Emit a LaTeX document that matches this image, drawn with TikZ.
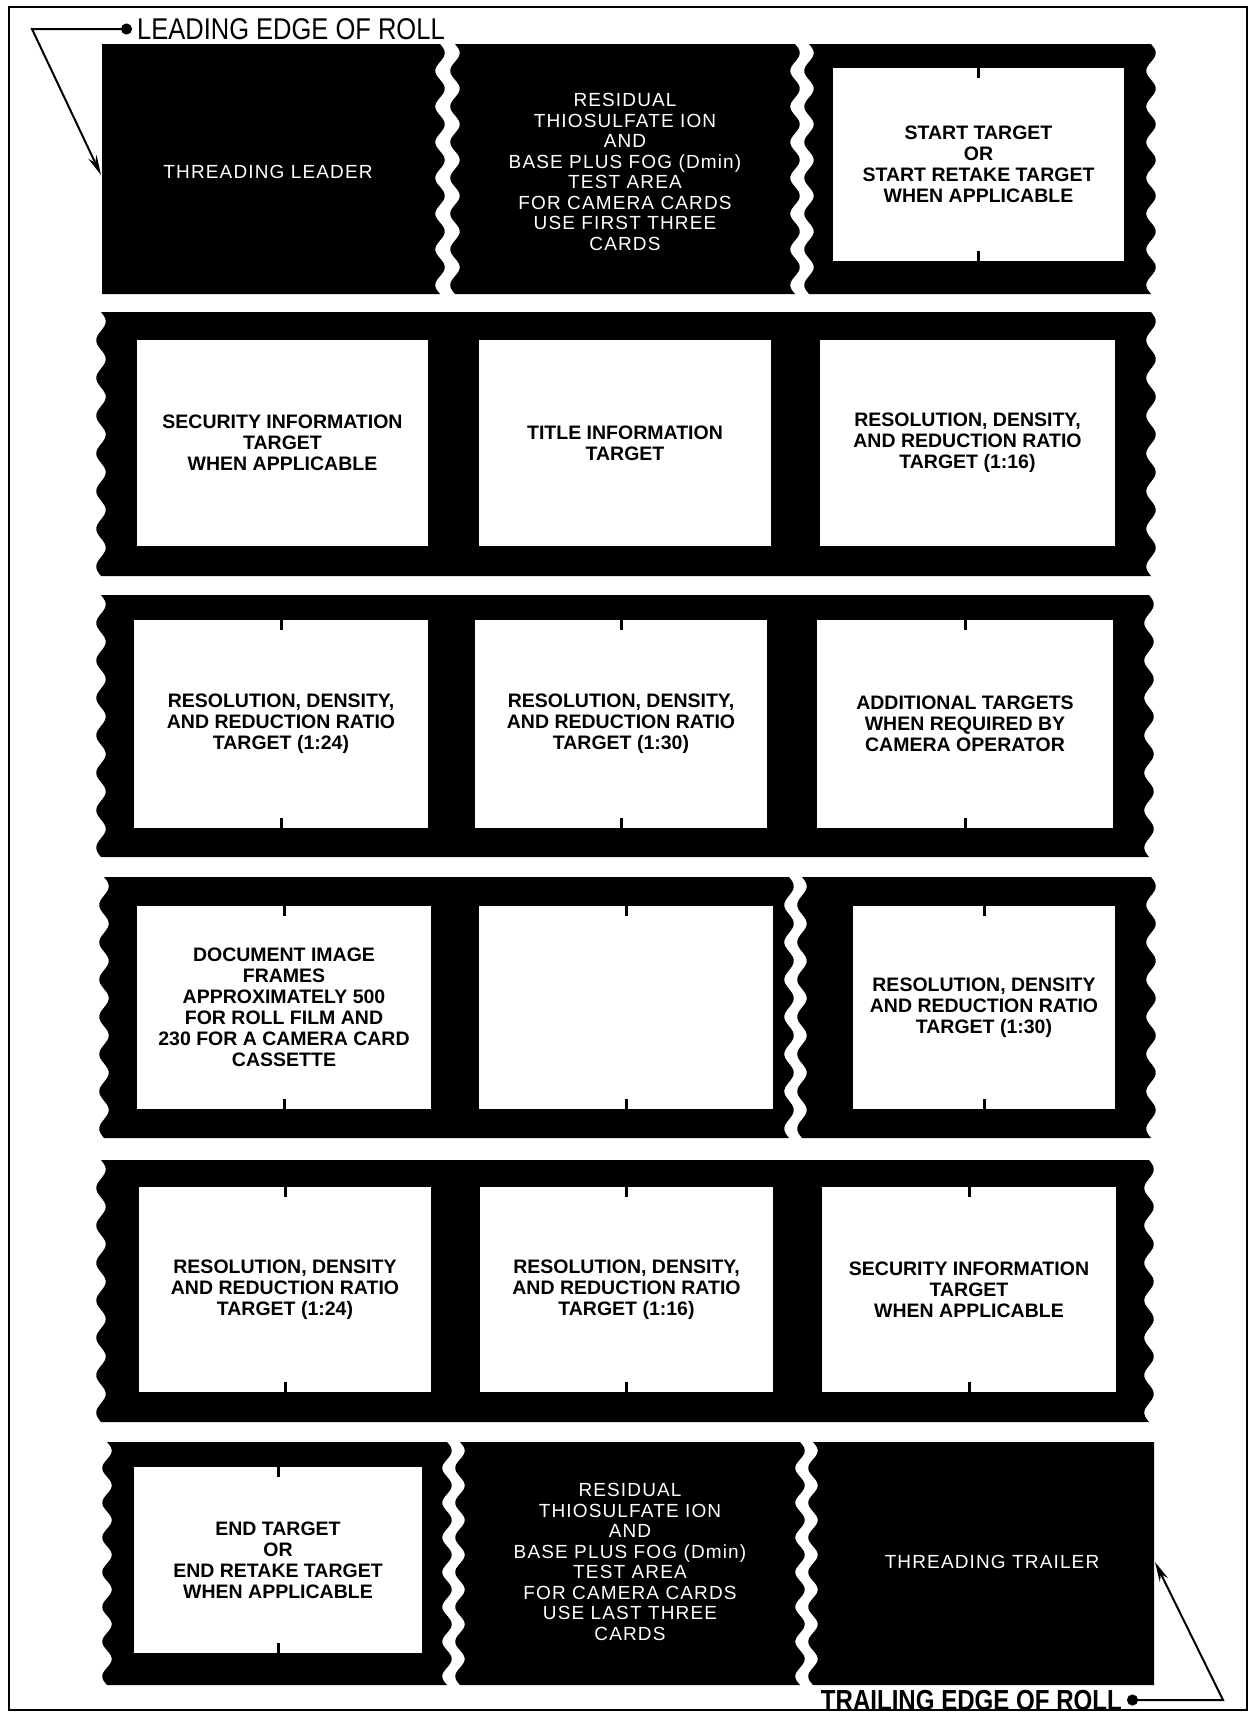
\documentclass[tikz,border=0pt]{standalone}
\usepackage{fontspec}
\setmainfont{Liberation Sans}
\newfontfamily\spacedfont[LetterSpace=6]{Liberation Sans}
\newfontfamily\leadfont[FakeStretch=0.85]{Liberation Sans}
\newfontfamily\trailfont[FakeStretch=0.83]{Liberation Sans}
\usetikzlibrary{arrows.meta,calc}
\tikzset{
  film/.style={fill=black},
  wavy/.style={smooth, samples=99, variable=\yy},
  wedge/.style 2 args={insert path={-- plot[wavy, domain=#2]
      ({#1+4.8*sin((\yy-\ftop)/(\fbot-\ftop)*2520)}, \yy)}},
  win/.style={fill=white, inner sep=0pt, align=center,
              font=\bfseries\fontsize{19.5}{21}\selectfont},
  dark/.style={text=white, inner sep=0pt, align=center,
               font=\spacedfont\fontsize{19}{20.5}\selectfont},
  notch/.style={fill=black},
  edgelabel/.style={inner sep=0pt},
  pointer/.style={line width=2pt,
                  {Circle[length=11pt]}-{Stealth[length=20pt,width=9pt]}},
}

\begin{document}
\begin{tikzpicture}[x=1pt, y=-1pt]
  \useasboundingbox (0,0) rectangle (1252,1719);
  \draw[line width=2.5] (9,7) rectangle (1247,1710);
  % film row 1
  \def\ftop{44}\def\fbot{294}
  \fill[film] (102,\ftop) -- (440,\ftop) [wedge={440}{\ftop:\fbot}]
    -- (102,\fbot) -- cycle;
  \fill[film] (455,\ftop) -- (795,\ftop) [wedge={795}{\ftop:\fbot}]
    -- (455,\fbot) [wedge={455}{\fbot:\ftop}] -- cycle;
  \fill[film] (809,\ftop) -- (1151,\ftop) [wedge={1151}{\ftop:\fbot}]
    -- (809,\fbot) [wedge={809}{\fbot:\ftop}] -- cycle;
  % film row 2
  \def\ftop{312}\def\fbot{576}
  \fill[film] (101,\ftop) -- (1151,\ftop) [wedge={1151}{\ftop:\fbot}]
    -- (101,\fbot) [wedge={101}{\fbot:\ftop}] -- cycle;
  % film row 3
  \def\ftop{595}\def\fbot{857}
  \fill[film] (101,\ftop) -- (1149,\ftop) [wedge={1149}{\ftop:\fbot}]
    -- (101,\fbot) [wedge={101}{\fbot:\ftop}] -- cycle;
  % film row 4
  \def\ftop{877}\def\fbot{1138}
  \fill[film] (104,\ftop) -- (789,\ftop) [wedge={789}{\ftop:\fbot}]
    -- (104,\fbot) [wedge={104}{\fbot:\ftop}] -- cycle;
  \fill[film] (802,\ftop) -- (1151,\ftop) [wedge={1151}{\ftop:\fbot}]
    -- (802,\fbot) [wedge={802}{\fbot:\ftop}] -- cycle;
  % film row 5
  \def\ftop{1160}\def\fbot{1422}
  \fill[film] (101,\ftop) -- (1149,\ftop) [wedge={1149}{\ftop:\fbot}]
    -- (101,\fbot) [wedge={101}{\fbot:\ftop}] -- cycle;
  % film row 6
  \def\ftop{1442}\def\fbot{1685}
  \fill[film] (107,\ftop) -- (447,\ftop) [wedge={447}{\ftop:\fbot}]
    -- (107,\fbot) [wedge={107}{\fbot:\ftop}] -- cycle;
  \fill[film] (460,\ftop) -- (800,\ftop) [wedge={800}{\ftop:\fbot}]
    -- (460,\fbot) [wedge={460}{\fbot:\ftop}] -- cycle;
  \fill[film] (813,\ftop) -- (1154,\ftop) -- (1154,\fbot)
    -- (813,\fbot) [wedge={813}{\fbot:\ftop}] -- cycle;

  % dark frames
  \node[dark] (leader) at (268,172) {THREADING LEADER};
  \node[dark] (testfirst) at (625,172) {RESIDUAL\\THIOSULFATE ION\\AND\\
    BASE PLUS FOG (Dmin)\\TEST AREA\\FOR CAMERA CARDS\\USE FIRST THREE\\CARDS};
  \node[dark] (testlast) at (630,1562) {RESIDUAL\\THIOSULFATE ION\\AND\\
    BASE PLUS FOG (Dmin)\\TEST AREA\\FOR CAMERA CARDS\\USE LAST THREE\\CARDS};
  \node[dark] (trailer) at (992,1562) {THREADING TRAILER};

  % image windows
  \node[win, minimum width=291, minimum height=193] (r1c) at (978.5,164.5)
    {START TARGET\\OR\\START RETAKE TARGET\\WHEN APPLICABLE};
  \node[win, minimum width=291, minimum height=206] (r2a) at (282.5,443)
    {SECURITY INFORMATION\\TARGET\\WHEN APPLICABLE};
  \node[win, minimum width=292, minimum height=206] (r2b) at (625,443)
    {TITLE INFORMATION\\TARGET};
  \node[win, minimum width=295, minimum height=206] (r2c) at (967.5,443)
    {RESOLUTION, DENSITY,\\AND REDUCTION RATIO\\TARGET (1:16)};
  \node[win, minimum width=294, minimum height=208] (r3a) at (281,724)
    {RESOLUTION, DENSITY,\\AND REDUCTION RATIO\\TARGET (1:24)};
  \node[win, minimum width=292, minimum height=208] (r3b) at (621,724)
    {RESOLUTION, DENSITY,\\AND REDUCTION RATIO\\TARGET (1:30)};
  \node[win, minimum width=296, minimum height=208] (r3c) at (965,724)
    {ADDITIONAL TARGETS\\WHEN REQUIRED BY\\CAMERA OPERATOR};
  \node[win, minimum width=294, minimum height=203] (r4a) at (284,1007.5)
    {DOCUMENT IMAGE\\FRAMES\\APPROXIMATELY 500\\FOR ROLL FILM AND\\
     230 FOR A CAMERA CARD\\CASSETTE};
  \node[win, minimum width=294, minimum height=203] (r4b) at (626,1007.5) {};
  \node[win, minimum width=262, minimum height=203] (r4c) at (984,1007.5)
    {RESOLUTION, DENSITY\\AND REDUCTION RATIO\\TARGET (1:30)};
  \node[win, minimum width=292, minimum height=205] (r5a) at (285,1289.5)
    {RESOLUTION, DENSITY\\AND REDUCTION RATIO\\TARGET (1:24)};
  \node[win, minimum width=293, minimum height=205] (r5b) at (626.5,1289.5)
    {RESOLUTION, DENSITY,\\AND REDUCTION RATIO\\TARGET (1:16)};
  \node[win, minimum width=294, minimum height=205] (r5c) at (969,1289.5)
    {SECURITY INFORMATION\\TARGET\\WHEN APPLICABLE};
  \node[win, minimum width=288, minimum height=186] (r6a) at (278,1560)
    {END TARGET\\OR\\END RETAKE TARGET\\WHEN APPLICABLE};

  % frame notches
  \foreach \w in {r1c,r3a,r3b,r3c,r4a,r4b,r4c,r5a,r5b,r5c,r6a} {
    \fill[notch] ($(\w.north)+(-1.5,0)$) rectangle ++(3,10);
    \fill[notch] ($(\w.south)+(-1.5,0)$) rectangle ++(3,-10);
  }

  % roll edges
  \node[edgelabel, anchor=west, font=\leadfont\fontsize{30}{30}\selectfont]
    (lead) at (137,29) {LEADING EDGE OF ROLL};
  \node[edgelabel, anchor=east,
        font=\trailfont\bfseries\fontsize{29}{29}\selectfont]
    (trail) at (1122,1700) {TRAILING EDGE OF ROLL};
  \coordinate (leadbend) at (32,29);
  \coordinate (leadtip) at (101,175);
  \coordinate (trailbend) at (1223,1700);
  \coordinate (trailtip) at (1155,1562);
  \draw[pointer] ($(lead.west)+(-5,0)$) -- (leadbend) -- (leadtip);
  \draw[pointer] ($(trail.east)+(5,0)$) -- (trailbend) -- (trailtip);
\end{tikzpicture}
\end{document}
